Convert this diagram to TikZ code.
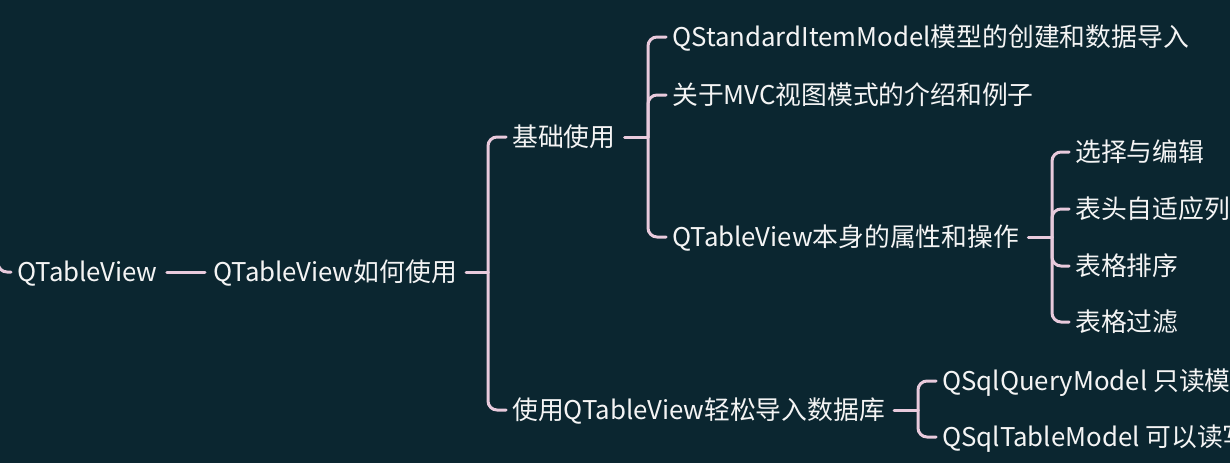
\documentclass[tikz,border=0pt]{standalone}
\usepackage{fontspec}
\setmainfont{Noto Sans CJK SC}
\definecolor{bg}{HTML}{0B2630}
\definecolor{ln}{HTML}{E8CADC}
\definecolor{tx}{HTML}{F4F4F4}
\begin{document}
\begin{tikzpicture}[x=1pt,y=-1pt,
  lbl/.style={anchor=west, inner sep=0pt, text=tx, font=\fontsize{25.8}{30}\selectfont, text height=19.5pt, text depth=0pt},
  conn/.style={draw=ln, line width=3pt, rounded corners=9pt, line cap=round}]
\fill[bg] (0,0) rectangle (1230,463);
\clip (0,0) rectangle (1230,463);
\node[lbl] (root) at (17,272) {QTableView};
\node[lbl] (how) at (213,272) {QTableView如何使用};
\node[lbl] (basic) at (512,137) {基础使用};
\node[lbl] (db) at (512,410) {使用QTableView轻松导入数据库};
\node[lbl] (std) at (672,37) {QStandardItemModel模型的创建和数据导入};
\node[lbl] (mvc) at (672,95) {关于MVC视图模式的介绍和例子};
\node[lbl] (tv) at (672,237) {QTableView本身的属性和操作};
\node[lbl] (sel) at (1075,152) {选择与编辑};
\node[lbl] (hdr) at (1075,209) {表头自适应列};
\node[lbl] (sort) at (1075,266) {表格排序};
\node[lbl] (filt) at (1075,322) {表格过滤};
\node[lbl] (qm) at (942,381) {QSqlQueryModel 只读模型};
\node[lbl] (tm) at (942,437) {QSqlTableModel 可以读写};
\coordinate (t0) at (-2,250);
\coordinate (t1) at (488,272);
\coordinate (t2) at (648,137);
\coordinate (t3) at (1052,237);
\coordinate (t4) at (918,410);
\draw[conn] (t0) -- (t0 |- root) -- ([xshift=-6pt]root.west);
\draw[conn] ([xshift=9pt]root.east) -- ([xshift=-8pt]how.west);
\draw[conn] ([xshift=9pt]how.east) -- (t1);
\foreach \c in {basic,db}
  \draw[conn] (t1) -- (t1 |- \c) -- ([xshift=-6pt]\c.west);
\draw[conn] ([xshift=9pt]basic.east) -- (t2);
\foreach \c in {std,mvc,tv}
  \draw[conn] (t2) -- (t2 |- \c) -- ([xshift=-6pt]\c.west);
\draw[conn] ([xshift=9pt]tv.east) -- (t3);
\foreach \c in {sel,hdr,sort,filt}
  \draw[conn] (t3) -- (t3 |- \c) -- ([xshift=-6pt]\c.west);
\draw[conn] ([xshift=9pt]db.east) -- (t4);
\foreach \c in {qm,tm}
  \draw[conn] (t4) -- (t4 |- \c) -- ([xshift=-6pt]\c.west);
\end{tikzpicture}
\end{document}
